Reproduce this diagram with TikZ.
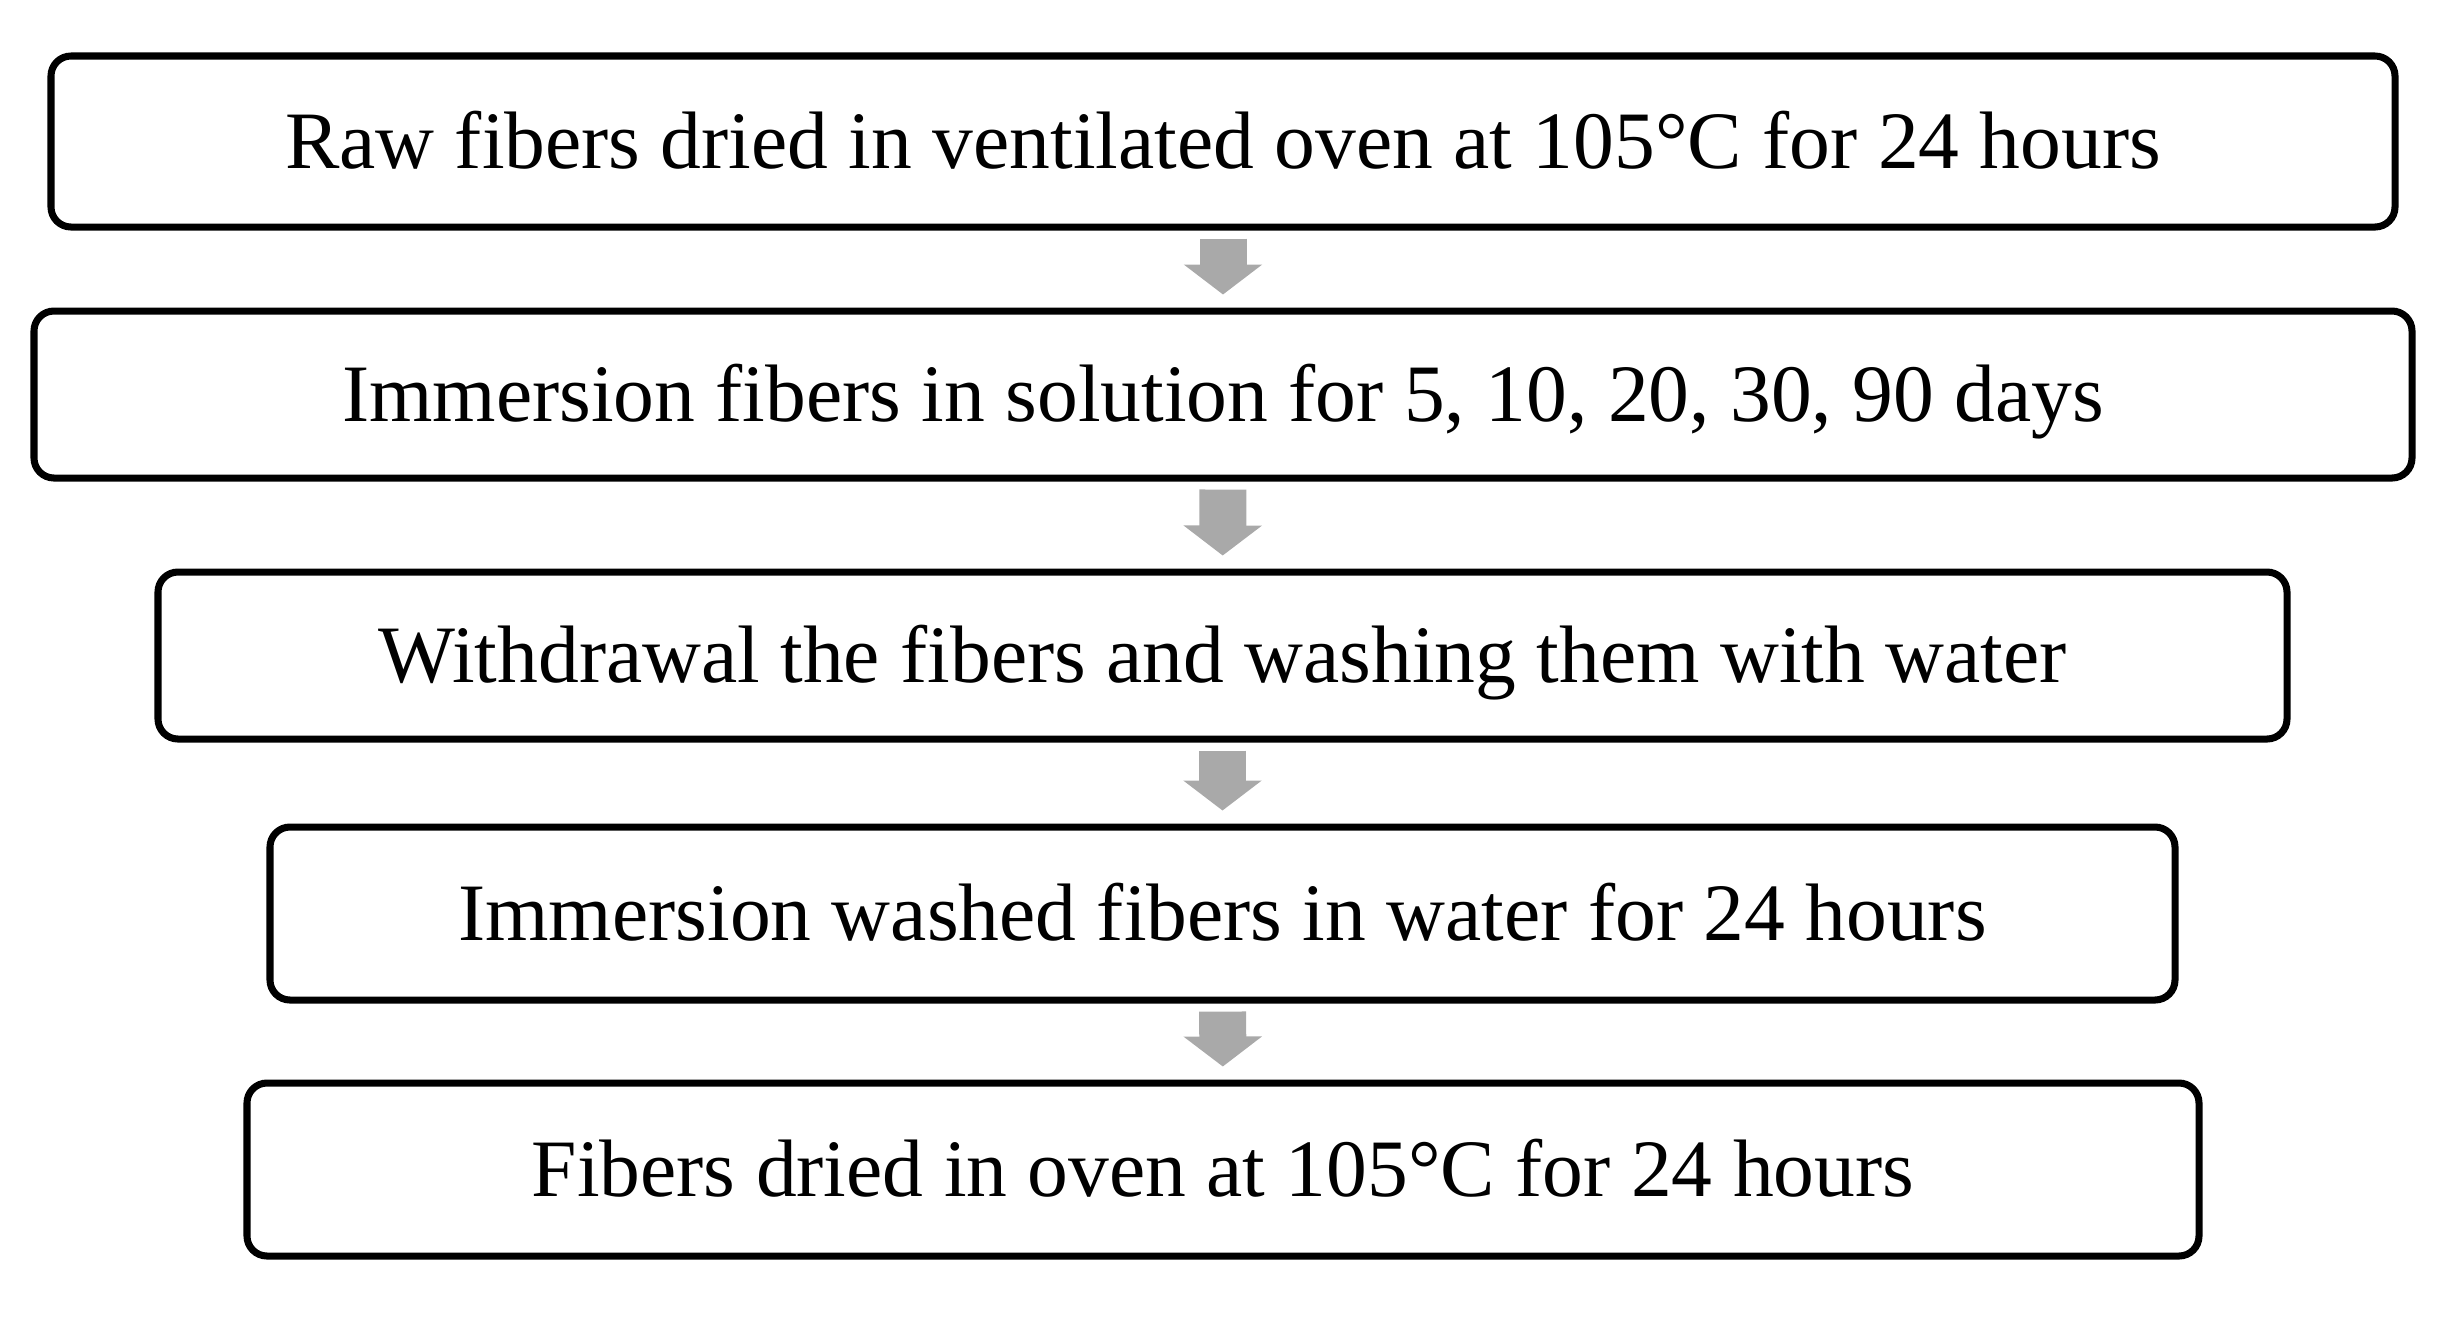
\documentclass[tikz,border=0pt]{standalone}
\usepackage{fontspec}
\setmainfont{Liberation Serif}
\usetikzlibrary{arrows.meta}
\definecolor{arrowgray}{HTML}{A9A9A9}

\begin{document}
\begin{tikzpicture}[stage/.style = {draw, line width=2pt, rounded corners=0.2cm, inner sep=0pt, minimum height=1.7cm, text height=20pt, text depth=4.8pt, font=\fontsize{23.2}{27}\selectfont},
		flow/.style = {draw=arrowgray, line width=0.47cm, shorten <=0.08cm, shorten >=0.13cm, -{Triangle[width=0.77cm, length=0.3cm]}}]
				\useasboundingbox (0,0) rectangle (24.53,-13.18);
				\node[stage, minimum width=23.44cm, minimum height=1.71cm] (dry) at (12.23,-1.415) {Raw fibers dried in ventilated oven at 105°C for 24 hours};
				\node[stage, minimum width=23.78cm, minimum height=1.67cm] (soak) at (12.23,-3.945) {Immersion fibers in solution for 5, 10, 20, 30, 90 days};
				\node[stage, minimum width=21.29cm, minimum height=1.67cm] (wash) at (12.225,-6.555) {Withdrawal the fibers and washing them with water};
				\node[stage, minimum width=19.05cm, minimum height=1.73cm] (rinse) at (12.225,-9.135) {Immersion washed fibers in water for 24 hours};
				\node[stage, minimum width=19.52cm, minimum height=1.73cm] (redry) at (12.23,-11.695) {Fibers dried in oven at 105°C for 24 hours};
				
				\draw[flow] (dry) -- (soak);
				\draw[flow] (soak) -- (wash);
				\draw[flow] (wash) -- (rinse);
				\draw[flow] (rinse) -- (redry);
			\end{tikzpicture}
\end{document}
